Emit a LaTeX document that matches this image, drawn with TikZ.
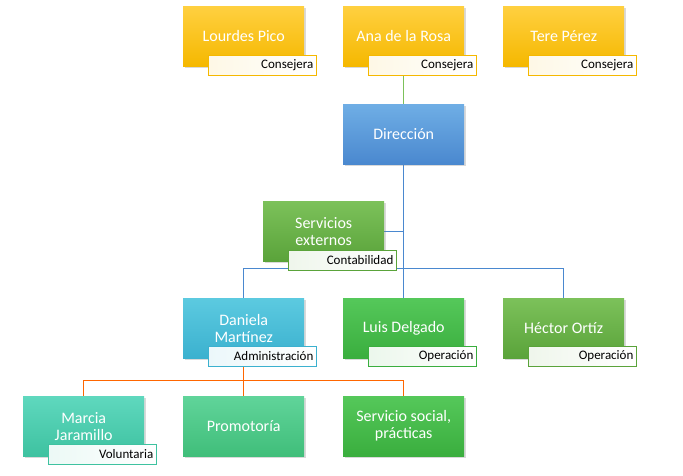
\documentclass[tikz,border=0pt]{standalone}
\usepackage{fontspec}
\setmainfont{Carlito}
\usetikzlibrary{shadows}
\definecolor{gold1}{HTML}{FFD040}\definecolor{gold2}{HTML}{F5B800}
\definecolor{blue1}{HTML}{6FAEE5}\definecolor{blue2}{HTML}{4A88CF}
\definecolor{grn1}{HTML}{7CC15A}\definecolor{grn2}{HTML}{5AA33A}
\definecolor{grnb1}{HTML}{55C85A}\definecolor{grnb2}{HTML}{3AAE3E}
\definecolor{cyan1}{HTML}{5CCAE0}\definecolor{cyan2}{HTML}{3BB1CF}
\definecolor{teal1}{HTML}{5FD8BE}\definecolor{teal2}{HTML}{3EC2A0}
\definecolor{mint1}{HTML}{60D49A}\definecolor{mint2}{HTML}{40BE7A}
\begin{document}
\begin{tikzpicture}[x=1pt,y=-1pt,
 box/.style={draw=none,minimum width=121pt,minimum height=60pt,text=white,font=\fontsize{16}{17}\selectfont,align=center,anchor=north west,inner sep=2pt,drop shadow={shadow xshift=2pt,shadow yshift=-2pt,opacity=0.3}},
 lab/.style={draw=#1,line width=0.8pt,left color=white!90!#1,right color=white,minimum width=108pt,minimum height=20pt,anchor=north west,font=\fontsize{13}{14}\selectfont,align=right,inner sep=2pt,text width=102pt},
 gold/.style={top color=gold1,bottom color=gold2},
 line/.style={line width=0.8pt}]
\useasboundingbox (0,0) rectangle (683,476);
\draw[line,draw=blue2] (403,164) -- (403,268);
\draw[line,draw=blue2] (384,231) -- (403,231);
\draw[line,draw=blue2] (243,298) -- (243,268) -- (563,268) -- (563,298);
\draw[line,draw=blue2] (403,268) -- (403,298);
\draw[line,draw=grn1] (403,66) -- (403,104);
\draw[line,draw=orange!80!red] (243,358) -- (243,380);
\draw[line,draw=orange!80!red] (83,396) -- (83,380) -- (403,380) -- (403,396);
\draw[line,draw=orange!80!red] (243,380) -- (243,396);
\node[box,gold] (lp) at (183,6) {Lourdes Pico};
\node[box,gold] (ar) at (343,6) {Ana de la Rosa};
\node[box,gold] (tp) at (503,6) {Tere Pérez};
\node[lab=gold2] (lpl) at (208,55) {Consejera};
\node[lab=gold2] (arl) at (368,55) {Consejera};
\node[lab=gold2] (tpl) at (528,55) {Consejera};
\node[box,top color=blue1,bottom color=blue2] (dir) at (343,104) {Dirección};
\node[box,top color=grn1,bottom color=grn2] (se) at (263,201) {Servicios\\externos};
\node[lab=grn2] (sel) at (288,250) {Contabilidad};
\node[box,top color=cyan1,bottom color=cyan2] (dm) at (183,298) {Daniela\\Martínez};
\node[lab=cyan2] (dml) at (208,346) {Administración};
\node[box,top color=grnb1,bottom color=grnb2] (ld) at (343,298) {Luis Delgado};
\node[lab=grnb2] (ldl) at (368,346) {Operación};
\node[box,top color=grn1,bottom color=grn2] (ho) at (503,298) {Héctor Ortíz};
\node[lab=grn2] (hol) at (528,346) {Operación};
\node[box,top color=teal1,bottom color=teal2] (mj) at (23,396) {Marcia\\Jaramillo};
\node[lab=teal2] (mjl) at (48,444) {Voluntaria};
\node[box,top color=mint1,bottom color=mint2] (pr) at (183,396) {Promotoría};
\node[box,top color=grnb1,bottom color=grnb2] (ss) at (343,396) {Servicio social,\\prácticas};
\end{tikzpicture}
\end{document}
